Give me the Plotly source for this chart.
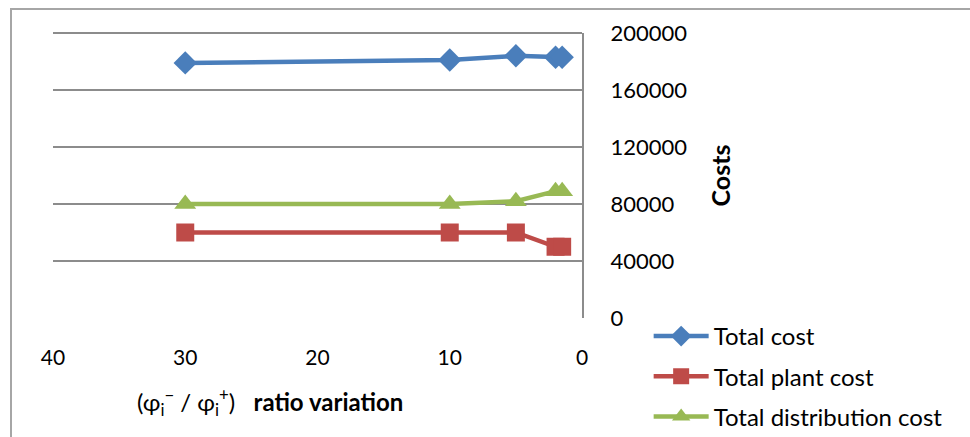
import plotly.graph_objects as go

ratio = [30, 10, 5, 2, 1.5]
total_cost = [179000, 181000, 184000, 183000, 183000]
plant_cost = [60000, 60000, 60000, 50000, 50000]
distribution_cost = [80000, 80000, 82000, 89000, 89000]
y_ticks = [0, 40000, 80000, 120000, 160000, 200000]
x_ticks = [0, 10, 20, 30, 40]

series = [
    ("Total cost", total_cost, "#4A7EBB", "diamond", 18),
    ("Total plant cost", plant_cost, "#BE4B48", "square", 18),
    ("Total distribution cost", distribution_cost, "#98B954", "triangle-up", 19),
]

FONT = "Lato, Carlito, Calibri, sans-serif"

fig = go.Figure()
for i, (name, vals, color, sym, size) in enumerate(series):
    fig.add_trace(go.Scatter(
        x=ratio, y=vals, name=name, mode="lines+markers",
        legendgroup=f"g{i}",
        line=dict(color=color, width=4.5),
        marker=dict(symbol=sym, size=size, color=color, line=dict(width=0)),
    ))

fig.update_layout(
    width=970, height=437,
    margin=dict(l=53, r=388, t=33, b=119, autoexpand=False),
    paper_bgcolor="white", plot_bgcolor="white",
    font=dict(family=FONT, size=21, color="#000000"),
    showlegend=True,
    legend=dict(
        x=1.126, y=0.014, xanchor="left", yanchor="top",
        font=dict(size=24, family=FONT),
        itemwidth=55, tracegroupgap=6,
        bgcolor="rgba(0,0,0,0)",
    ),
    xaxis=dict(
        range=[40, 0], tickvals=x_ticks,
        showgrid=False, zeroline=False, showline=False,
        ticks="", ticklabelstandoff=25,
        tickfont=dict(size=21),
    ),
    yaxis=dict(
        side="right", range=[0, 200000],
        tickvals=y_ticks, tickformat="d",
        showgrid=True, gridcolor="#8C8C8C", gridwidth=1.5,
        zeroline=False, showline=True, linecolor="#8C8C8C", linewidth=2,
        ticks="", ticklabelstandoff=22,
        tickfont=dict(size=22),
    ),
    shapes=[
        dict(type="rect", xref="paper", yref="paper",
             x0=-0.0794, x1=1.75, y0=-0.45, y1=1.084,
             line=dict(color="#A6A6A6", width=2), fillcolor="rgba(0,0,0,0)",
             layer="below"),
        dict(type="line", xref="paper", yref="paper",
             x0=0, x1=1, y0=1, y1=1,
             line=dict(color="#8C8C8C", width=2)),
    ],
    annotations=[
        dict(text="<b>Costs</b>", x=1.293, y=0.5, xref="paper", yref="paper",
             showarrow=False, textangle=-90, font=dict(size=25, family=FONT)),
        dict(text="(φ<sub>i</sub><sup>−</sup> / φ<sub>i</sub><sup>+</sup>)   <b>ratio variation</b>",
             x=0.41, y=-0.365, xref="paper", yref="paper",
             showarrow=False, font=dict(size=24, family=FONT)),
    ],
)

fig.write_html("out.html")
